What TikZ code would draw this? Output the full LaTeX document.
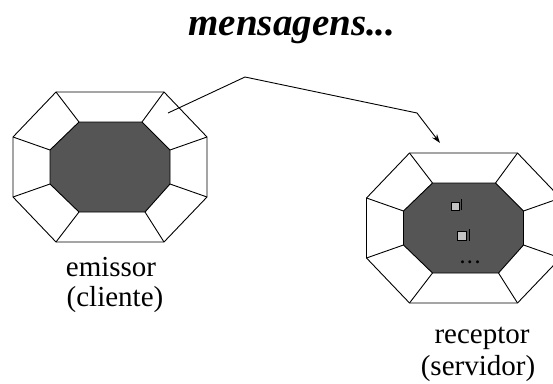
\documentclass[tikz,border=0pt]{standalone}
\usepackage{fontspec}
\setmainfont{Liberation Serif}
\usetikzlibrary{arrows.meta}
\begin{document}
\begin{tikzpicture}[x=1pt,y=-1pt,
  edge/.style={line width=0.9pt,line join=round},
  core/.style={edge,fill=coregray},
  msgbox/.style={draw=black,line width=0.9pt,fill=boxgray,inner sep=0pt},
  caption/.style={font=\fontsize{29}{32}\selectfont,anchor=base,inner sep=0pt},
  heading/.style={font=\fontsize{39}{42}\selectfont\bfseries\itshape,anchor=base,inner sep=0pt},
  pics/octagon/.style={code={
    % outer ring
    \draw[edge] (-54,-75) -- (54,-75) -- (97,-30) -- (97,30) -- (54,75)
      -- (-54,75) -- (-97,30) -- (-97,-30) -- cycle;
    % spokes joining outer and inner corners
    \draw[edge] (-54,-75) -- (-31,-45) (54,-75) -- (32,-45)
      (97,-30) -- (60,-17) (97,30) -- (60,17)
      (54,75) -- (35,45) (-54,75) -- (-31,45)
      (-97,30) -- (-60,17) (-97,-30) -- (-60,-17);
    % dark core
    \draw[core] (-31,-45) -- (32,-45) -- (60,-17) -- (60,17) -- (35,45)
      -- (-31,45) -- (-60,17) -- (-60,-17) -- cycle;
  }}]
\definecolor{coregray}{RGB}{85,85,85}
\definecolor{boxgray}{RGB}{195,195,195}
\useasboundingbox (0,0) rectangle (553,383);

\node[heading] (title) at (292,35) {mensagens...};

% client
\pic at (110,167) {octagon};
\node[caption] (emissor) at (111,276) {emissor};
\node[caption] (cliente) at (115,306) {(cliente)};

% server
\pic at (463.5,228) {octagon};
\node[caption] (receptor) at (482,343) {receptor};
\node[caption] (servidor) at (478,375) {(servidor)};

% queued messages inside the server
\node[msgbox,minimum size=8pt] (m1) at (455,206) {};
\draw[line width=0.9pt] (m1.south east) ++(2,0) -- ++(0,-11);
\node[msgbox,minimum size=9pt] (m2) at (462,236) {};
\draw[line width=0.9pt] (m2.south east) ++(2,0) -- ++(0,-12);
\node[inner sep=0pt,font=\fontsize{18}{18}\selectfont\bfseries,text=black] (more) at (470,262) {.\,.\,.};

% message path
\coordinate (src) at (168,113);
\coordinate (bend1) at (245,77);
\coordinate (bend2) at (417,113);
\coordinate (dst) at (440,143);
\draw[edge,-{Stealth[length=9pt,width=6pt]}] (src) -- (bend1) -- (bend2) -- (dst);
\end{tikzpicture}
\end{document}
